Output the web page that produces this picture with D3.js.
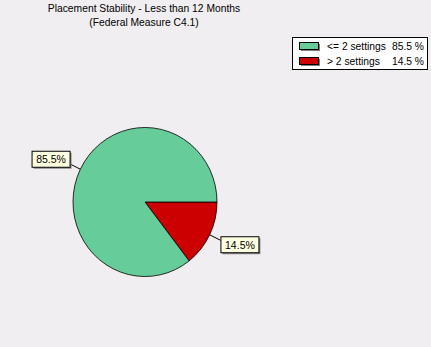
<!DOCTYPE html>
<html>
<head>
<meta charset="utf-8">
<script src="https://cdn.jsdelivr.net/npm/d3@7"></script>
<style>
  body { margin: 0; background: #f0eef0; }
  svg { display: block; font-family: "Liberation Sans", Arial, sans-serif; }
</style>
</head>
<body>
<svg id="chart"></svg>
<script>
var titleLines = ["Placement Stability - Less than 12 Months", "(Federal Measure C4.1)"];
var categories = ["<= 2 settings", "> 2 settings"];
var percents = [85.5, 14.5];
var colors = ["#66cc99", "#cc0000"];

function drawChart() {
    var width = 431;
    var height = 347;
    var svg = d3.select("#chart")
        .attr("width", width)
        .attr("height", height);

    svg.append("rect")
        .attr("width", width)
        .attr("height", height)
        .attr("fill", "#f0eef0");

    // title
    svg.selectAll(".title")
        .data(titleLines)
        .enter()
        .append("text")
        .classed("title", true)
        .attr("x", 144)
        .attr("y", (d, i) => 12 + i * 14)
        .attr("text-anchor", "middle")
        .attr("font-size", "10.3px")
        .attr("fill", "#000")
        .text(d => d);

    var rows = categories.map((c, i) => ({ name: c, value: percents[i], color: colors[i] }));

    // red slice starts at 3 o'clock going clockwise
    var arcs = d3.pie()
        .sort(null)
        .value(d => d.value)
        .startAngle(Math.PI / 2)
        .endAngle(Math.PI / 2 + 2 * Math.PI);

    var radius = 72;
    var yScale = 1.035;
    var path = d3.arc()
        .outerRadius(radius)
        .innerRadius(0);

    var g = svg.append("g")
        .attr("transform", "translate(145, 202)");

    var pieData = arcs(rows.slice().reverse());

    g.append("g")
        .attr("transform", "scale(1," + yScale + ")")
        .selectAll(".arc")
        .data(pieData)
        .enter()
        .append("path")
        .classed("arc", true)
        .attr("fill", d => d.data.color)
        .attr("stroke", "#000")
        .attr("stroke-width", 0.8)
        .attr("vector-effect", "non-scaling-stroke")
        .attr("d", path);

    // labels with leader lines
    var inner = d3.arc().innerRadius(radius).outerRadius(radius);
    var outer = d3.arc().innerRadius(radius + 12).outerRadius(radius + 12);

    pieData.forEach(d => {
        var p0 = inner.centroid(d);
        var p1 = outer.centroid(d);
        p0[1] *= yScale;
        p1[1] *= yScale;
        var right = p1[0] > 0;
        var label = d.data.value.toFixed(1) + "%";

        g.append("line")
            .attr("x1", p0[0]).attr("y1", p0[1])
            .attr("x2", p1[0]).attr("y2", p1[1])
            .attr("stroke", "#000")
            .attr("stroke-width", 1);

        var bw = 38, bh = 16;
        var bx = right ? p1[0] : p1[0] - bw;
        var by = p1[1] - bh / 2 + (right ? 4 : -5);

        g.append("rect")
            .attr("x", bx + 2).attr("y", by + 2)
            .attr("width", bw).attr("height", bh)
            .attr("fill", "#8a8a8a");
        g.append("rect")
            .attr("x", bx + 0.5).attr("y", by + 0.5)
            .attr("width", bw).attr("height", bh)
            .attr("fill", "#ffffe1")
            .attr("stroke", "#000")
            .attr("stroke-width", 1);
        g.append("text")
            .attr("x", bx + bw / 2 + 0.5)
            .attr("y", by + bh / 2 + 4.5)
            .attr("text-anchor", "middle")
            .attr("font-size", "10.5px")
            .attr("fill", "#000")
            .text(label);
    });

    // legend
    var legend = svg.append("g")
        .attr("transform", "translate(292, 37)");
    legend.append("rect")
        .attr("x", 0.5).attr("y", 0.5)
        .attr("width", 135).attr("height", 32)
        .attr("fill", "#fff")
        .attr("stroke", "#000");

    var item = legend.selectAll(".item")
        .data(rows)
        .enter()
        .append("g")
        .classed("item", true)
        .attr("transform", (d, i) => "translate(0," + (i * 15) + ")");

    item.append("rect")
        .attr("x", 9).attr("y", 7)
        .attr("width", 19).attr("height", 7)
        .attr("fill", "#7f7f7f");
    item.append("rect")
        .attr("x", 7.5).attr("y", 5.5)
        .attr("width", 19).attr("height", 7)
        .attr("fill", d => d.color)
        .attr("stroke", "#000");
    item.append("text")
        .attr("x", 35).attr("y", 13)
        .attr("font-size", "10.3px")
        .text(d => d.name);
    item.append("text")
        .attr("x", 132).attr("y", 13)
        .attr("text-anchor", "end")
        .attr("font-size", "10.3px")
        .text(d => d.value.toFixed(1) + " %");
}

drawChart();
</script>
</body>
</html>
